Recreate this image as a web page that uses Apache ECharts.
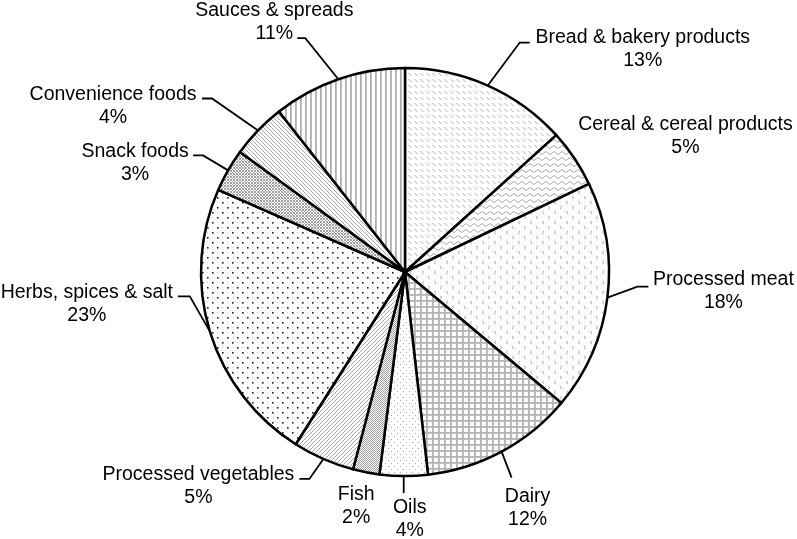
<!DOCTYPE html>
<html>
<head>
<meta charset="utf-8">
<script src="https://cdn.jsdelivr.net/npm/echarts@6/dist/echarts.min.js"></script>
<style>
  html, body { margin: 0; background: #fff; }
  #pie { width: 797px; height: 539px; }
</style>
</head>
<body>
<div id="pie"></div>
<script>
var names = ['Bread & bakery products', 'Cereal & cereal products', 'Processed meat', 'Dairy', 'Oils', 'Fish',
  'Processed vegetables', 'Herbs, spices & salt', 'Snack foods', 'Convenience foods', 'Sauces & spreads'];
var shares = [13.3, 4.6, 18.2, 12.1, 3.8, 2.1, 4.9, 22.6, 3.4, 4.4, 10.6];

// leader lines: elbow offset from the arc point, then a short flat run; label centre offset from the line end
var elbow = [[32, -43], [0, 0], [30, -11], [10, 26], [0, 17], [0, 0], [-14, 20], [-20, -35], [-25, -15], [-46, -32], [-33, -41]];
var run = [10, 0, 11, 0, 0, 0, -10, -12, -10, -10, -8];
var labelOff = [[113, 7], [111, -22], [75, 4.5], [16, 30], [6, 26], [-10, 34], [-101, 7], [-91, 7.5], [-58, 7.5], [-89, 7.5], [-23, -16.5]];

function tile(w, h, draw) {
  var c = document.createElement('canvas');
  c.width = w; c.height = h;
  var g = c.getContext('2d');
  g.fillStyle = '#fff';
  g.fillRect(0, 0, w, h);
  g.strokeStyle = '#aaa';
  g.fillStyle = '#aaa';
  g.lineWidth = 1;
  draw(g);
  return { image: c, repeat: 'repeat' };
}

function line(g, pts) {
  g.beginPath();
  g.moveTo(pts[0], pts[1]);
  for (var k = 2; k < pts.length; k += 2) g.lineTo(pts[k], pts[k + 1]);
  g.stroke();
}

var fills = [
  // bread: little back-slash dashes
  tile(6, 6, function (g) { g.strokeStyle = '#b0b0b0'; line(g, [0.5, 1, 3.5, 4]); }),
  // cereal: waves
  tile(8, 6, function (g) { g.strokeStyle = '#a8a8a8'; line(g, [0, 3, 2, 1.5, 4, 3, 6, 4.5, 8, 3]); }),
  // meat: small chevrons
  tile(12, 10, function (g) {
    g.strokeStyle = '#b0b0b0';
    line(g, [4, 1, 2, 2.5, 4, 4]);
    line(g, [8, 6, 10, 7.5, 8, 9]);
  }),
  // dairy: grid
  tile(6, 6, function (g) { g.fillStyle = '#b4b4b4'; g.fillRect(0, 0, 6, 1.8); g.fillRect(0, 0, 1.8, 6); }),
  // oils: sparse grey dots
  tile(6, 6, function (g) { g.fillStyle = '#aaa'; g.fillRect(1, 1, 1, 1); g.fillRect(4, 4, 1, 1); }),
  // fish: dense checker
  tile(2, 2, function (g) { g.fillStyle = '#a0a0a0'; g.fillRect(0, 0, 1, 1); g.fillRect(1, 1, 1, 1); }),
  // vegetables: forward diagonals
  tile(4, 4, function (g) { g.strokeStyle = '#a8a8a8'; line(g, [-1, 5, 5, -1]); line(g, [-1, 1, 1, -1]); line(g, [3, 5, 5, 3]); }),
  // herbs: black dots
  tile(10, 10, function (g) {
    g.fillStyle = '#d8d8d8'; g.fillRect(7, 2, 1, 1); g.fillRect(2, 7, 1, 1);
    g.fillStyle = '#222'; g.fillRect(2, 2, 1.6, 1.6); g.fillRect(7, 7, 1.6, 1.6);
  }),
  // snack: fine crosshatch
  tile(3, 3, function (g) { g.fillStyle = '#a0a0a0'; g.fillRect(0, 0, 1, 1); g.fillRect(2, 0, 1, 1); g.fillRect(1, 1, 1, 1); g.fillRect(0, 2, 1, 1); g.fillRect(2, 2, 1, 1); }),
  // convenience: back diagonals
  tile(4, 4, function (g) { g.strokeStyle = '#a8a8a8'; line(g, [-1, -1, 5, 5]); line(g, [3, -1, 5, 1]); line(g, [-1, 3, 1, 5]); }),
  // sauces: vertical lines
  tile(5, 4, function (g) { g.fillStyle = '#b0b0b0'; g.fillRect(0, 0, 1.8, 4); })
];

var data = names.map(function (n, i) {
  return { name: n, value: shares[i], itemStyle: { color: fills[i] } };
});

var chart = echarts.init(document.getElementById('pie'), null, { renderer: 'canvas' });
chart.setOption({
  animation: false,
  series: [{
    type: 'pie',
    center: [405, 272],
    radius: 204,
    startAngle: 90,
    clockwise: true,
    avoidLabelOverlap: false,
    percentPrecision: 0,
    data: data,
    itemStyle: { borderColor: '#000', borderWidth: 2.5 },
    emphasis: { disabled: true },
    label: {
      show: true,
      position: 'outside',
      formatter: '{b}\n{d}%',
      fontFamily: 'Liberation Sans, Arial, sans-serif',
      fontSize: 19.5,
      lineHeight: 23,
      color: '#000'
    },
    labelLine: {
      show: true,
      length: 10,
      length2: 10,
      lineStyle: { color: '#000', width: 1.8 }
    },
    labelLayout: function (p) {
      var i = p.dataIndex;
      var a = p.labelLinePoints[0];
      var b = [a[0] + elbow[i][0], a[1] + elbow[i][1]];
      var c = [b[0] + run[i], b[1]];
      return {
        x: c[0] + labelOff[i][0],
        y: c[1] + labelOff[i][1],
        align: 'center',
        verticalAlign: 'middle',
        labelLinePoints: [a, b, c]
      };
    }
  }]
});
</script>
</body>
</html>
